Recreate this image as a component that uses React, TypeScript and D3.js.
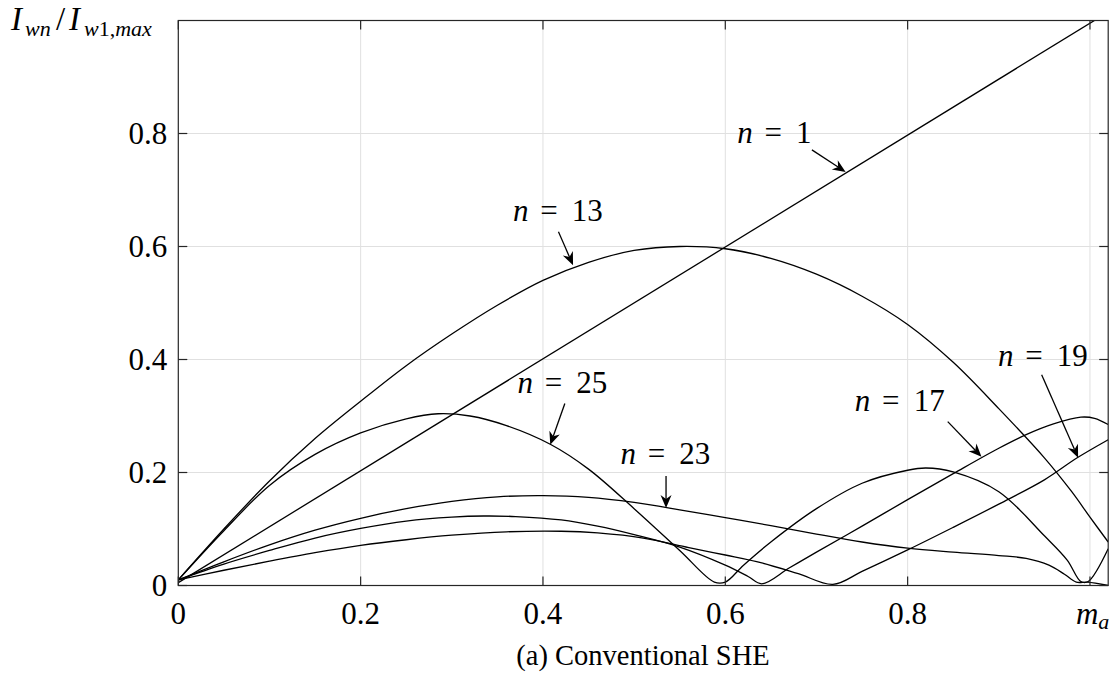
import React from "react";
import * as d3 from "d3";

// ---- data (x = m_a, y = I_wn / I_w1,max) ----
const n1: [number, number][] = [[0, 0.005], [1.02, 1.015]];
const n13: [number, number][] = [[0,0.01],[0.05,0.1],[0.1,0.185],[0.15,0.26],[0.2,0.326],[0.25,0.389],[0.3,0.445],[0.35,0.496],[0.4,0.54],[0.45,0.572],[0.5,0.593],[0.55,0.6],[0.6,0.596],[0.65,0.579],[0.7,0.551],[0.75,0.512],[0.8,0.462],[0.85,0.395],[0.9,0.313],[0.95,0.226],[0.98,0.166],[1.0,0.121],[1.02,0.077]];
const n25: [number, number][] = [[0,0.01],[0.05,0.097],[0.1,0.177],[0.15,0.232],[0.2,0.27],[0.25,0.295],[0.285,0.304],[0.32,0.3],[0.36,0.283],[0.408,0.25],[0.45,0.206],[0.5,0.136],[0.55,0.062],[0.588,0.006],[0.6,0.006],[0.62,0.036],[0.65,0.077],[0.7,0.136],[0.75,0.181],[0.8,0.204],[0.82,0.208],[0.85,0.201],[0.9,0.166],[0.95,0.088],[0.975,0.045],[0.99,0.007],[0.998,0.007],[1.02,0.065]];
const n23: [number, number][] = [[0,0.01],[0.05,0.042],[0.1,0.072],[0.15,0.098],[0.2,0.119],[0.25,0.136],[0.3,0.149],[0.35,0.157],[0.4,0.159],[0.45,0.156],[0.5,0.147],[0.55,0.134],[0.6,0.12],[0.65,0.106],[0.7,0.091],[0.75,0.077],[0.8,0.066],[0.85,0.059],[0.9,0.053],[0.93,0.048],[0.955,0.036],[0.972,0.02],[0.985,0.006],[0.997,0.006],[1.02,0.0]];
const n17: [number, number][] = [[0,0.01],[0.05,0.038],[0.1,0.062],[0.15,0.084],[0.2,0.101],[0.25,0.114],[0.3,0.121],[0.335,0.123],[0.37,0.122],[0.42,0.116],[0.46,0.105],[0.5,0.09],[0.55,0.068],[0.6,0.036],[0.625,0.016],[0.64,0.003],[0.67,0.031],[0.7,0.059],[0.75,0.105],[0.8,0.152],[0.85,0.198],[0.9,0.243],[0.93,0.267],[0.96,0.286],[0.99,0.298],[1.005,0.296],[1.02,0.285]];
const n19: [number, number][] = [[0,0.01],[0.05,0.027],[0.1,0.043],[0.15,0.058],[0.2,0.071],[0.25,0.081],[0.3,0.089],[0.36,0.095],[0.42,0.096],[0.46,0.093],[0.51,0.084],[0.56,0.067],[0.6,0.054],[0.64,0.04],[0.68,0.021],[0.718,0.002],[0.75,0.025],[0.8,0.063],[0.85,0.103],[0.9,0.144],[0.95,0.187],[0.986,0.226],[1.02,0.258]];

const seriesList = [n1, n13, n25, n23, n17, n19];

const xTicks = [0, 0.2, 0.4, 0.6, 0.8, 1.0];
const xTickLabels = ["0", "0.2", "0.4", "0.6", "0.8", "m_a"];
const yTicks = [0, 0.2, 0.4, 0.6, 0.8];
const yTickLabels = ["0", "0.2", "0.4", "0.6", "0.8"];
const xDomain = [0, 1.02];
const yDomain = [0, 1];

// annotations: label, text anchor (data), arrow start, arrow tip (data)
const annLabels = ["1", "13", "25", "23", "17", "19"];
const annText: [number, number][] = [[0.613,0.783],[0.367,0.645],[0.372,0.341],[0.485,0.215],[0.742,0.308],[0.899,0.388]];
const annFrom: [number, number][] = [[0.695,0.771],[0.417,0.626],[0.424,0.322],[0.535,0.194],[0.844,0.29],[0.947,0.373]];
const annTo: [number, number][] = [[0.732,0.732],[0.433,0.567],[0.408,0.249],[0.535,0.137],[0.881,0.228],[0.987,0.226]];

const W = 1116, H = 684;
const L = 178.3, R = 1108.2, T = 20.5, B = 585.5;
const FONT = "'Liberation Serif', 'Times New Roman', serif";

export default function App() {
  const x = d3.scaleLinear().domain(xDomain).range([L, R]);
  const y = d3.scaleLinear().domain(yDomain).range([B, T]);
  const line = d3.line<[number, number]>().x(d => x(d[0])).y(d => y(d[1])).curve(d3.curveCatmullRom.alpha(0.5));
  const tickLen = 9;
  const axisColor = "#262626";

  const arrow = (i: number) => {
    const x1 = x(annFrom[i][0]), y1 = y(annFrom[i][1]);
    const x2 = x(annTo[i][0]), y2 = y(annTo[i][1]);
    const a = Math.atan2(y2 - y1, x2 - x1);
    const dx = Math.cos(a), dy = Math.sin(a);
    const len = 13, hw = 5.5, notch = 4;
    const bx = x2 - len * dx, by = y2 - len * dy;
    const nx = x2 - (len - notch) * dx, ny = y2 - (len - notch) * dy;
    const pts = [[x2, y2], [bx - hw * dy, by + hw * dx], [nx, ny], [bx + hw * dy, by - hw * dx]];
    return (
      <g key={"ar" + i}>
        <line x1={x1} y1={y1} x2={nx} y2={ny} stroke="#000" strokeWidth={1.3} />
        <polygon points={pts.map(p => p.join(",")).join(" ")} fill="#000" />
      </g>
    );
  };

  return (
    <svg width={W} height={H} style={{ position: "absolute", left: 0, top: 0, background: "#fff" }} fontFamily={FONT}>
      <rect x={0} y={0} width={W} height={H} fill="#fff" />
      <defs>
        <clipPath id="plotclip"><rect x={L} y={T} width={R - L} height={B - T} /></clipPath>
      </defs>
      {/* grid */}
      {xTicks.filter(t => t > 0).map(t => (
        <line key={"gx" + t} x1={x(t)} x2={x(t)} y1={T} y2={B} stroke="#e0e0e0" strokeWidth={1} />
      ))}
      {yTicks.filter(t => t > 0).map(t => (
        <line key={"gy" + t} x1={L} x2={R} y1={y(t)} y2={y(t)} stroke="#e0e0e0" strokeWidth={1} />
      ))}
      {/* curves */}
      <g clipPath="url(#plotclip)">
        {seriesList.map((s, i) => (
          <path key={"s" + i} d={line(s) || ""} fill="none" stroke="#000" strokeWidth={1.3} />
        ))}
      </g>
      {/* axes box */}
      <rect x={L} y={T} width={R - L} height={B - T} fill="none" stroke={axisColor} strokeWidth={1.2} />
      {xTicks.map(t => (
        <g key={"tx" + t}>
          <line x1={x(t)} x2={x(t)} y1={B} y2={B - tickLen} stroke={axisColor} strokeWidth={1.2} />
          <line x1={x(t)} x2={x(t)} y1={T} y2={T + tickLen} stroke={axisColor} strokeWidth={1.2} />
        </g>
      ))}
      {yTicks.map(t => (
        <g key={"ty" + t}>
          <line x1={L} x2={L + tickLen} y1={y(t)} y2={y(t)} stroke={axisColor} strokeWidth={1.2} />
          <line x1={R} x2={R - tickLen} y1={y(t)} y2={y(t)} stroke={axisColor} strokeWidth={1.2} />
        </g>
      ))}
      {/* x tick labels */}
      {xTicks.map((t, i) =>
        xTickLabels[i] === "m_a" ? (
          <text key={"xl" + i} x={x(t) - 14} y={624} fontSize={31} fill="#000">
            <tspan fontStyle="italic">m</tspan>
            <tspan fontStyle="italic" fontSize={22} dy={5}>a</tspan>
          </text>
        ) : (
          <text key={"xl" + i} x={x(t)} y={624} fontSize={31} textAnchor="middle" fill="#000">{xTickLabels[i]}</text>
        )
      )}
      {/* y tick labels */}
      {yTicks.map((t, i) => (
        <text key={"yl" + i} x={L - 11} y={y(t) + 10} fontSize={31} textAnchor="end" fill="#000">{yTickLabels[i]}</text>
      ))}
      {/* y label */}
      <text y={30} fontSize={33} fill="#000">
        <tspan x={11} fontStyle="italic">I</tspan>
        <tspan x={25} y={36} fontStyle="italic" fontSize={22}>wn</tspan>
        <tspan x={56} y={30}>/</tspan>
        <tspan x={69} y={30} fontStyle="italic">I</tspan>
        <tspan x={84} y={36} fontSize={22}>
          <tspan fontStyle="italic">w</tspan>
          <tspan>1,</tspan>
          <tspan fontStyle="italic">max</tspan>
        </tspan>
      </text>
      {/* title */}
      <text x={643} y={665} fontSize={28.5} textAnchor="middle" fill="#000">(a) Conventional SHE</text>
      {/* annotations */}
      {annLabels.map((lab, i) => {
        const tx = x(annText[i][0]), ty = y(annText[i][1]);
        return (
          <text key={"an" + i} y={ty} fontSize={31} fill="#000">
            <tspan x={tx} fontStyle="italic">n</tspan>
            <tspan x={tx + 0.88 * 31}>=</tspan>
            <tspan x={tx + 1.9 * 31}>{lab}</tspan>
          </text>
        );
      })}
      {annLabels.map((_, i) => arrow(i))}
    </svg>
  );
}
